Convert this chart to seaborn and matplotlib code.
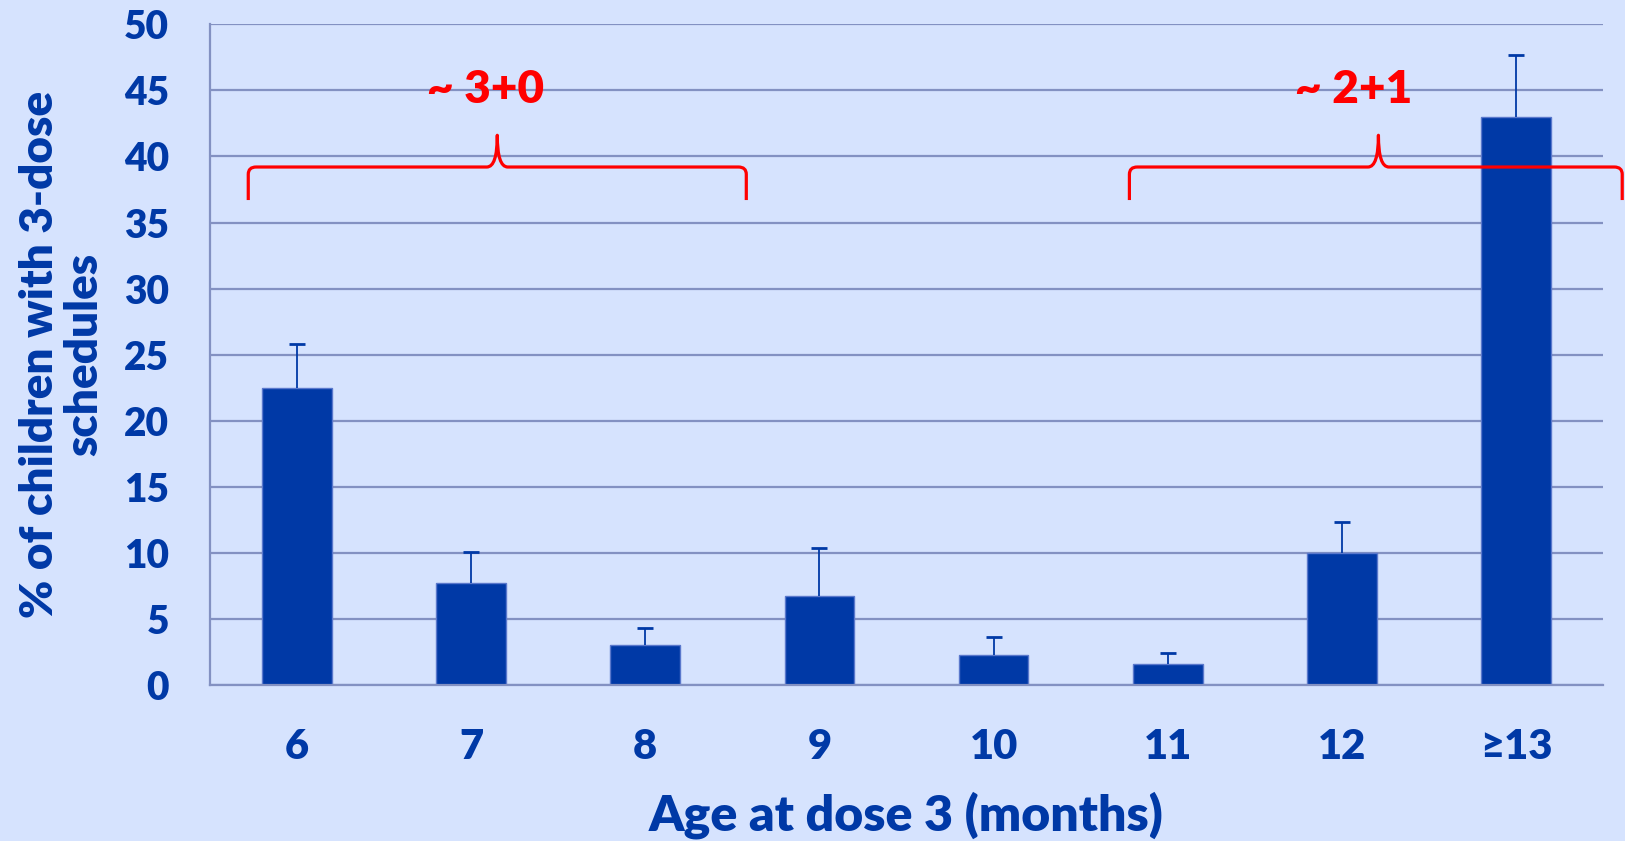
import numpy as np
import pandas as pd
import seaborn as sns
import matplotlib.pyplot as plt
from matplotlib.path import Path
from matplotlib.patches import PathPatch

#Figure Colors
bg_color = '#d6e3fe'
bar_color = '#0039a6'
text_color = '#0039a6'
grid_color = '#8391c2'
brace_color = '#ff0000'

sns.set_style('white')
plt.rcParams['font.family'] = ['Lato', 'DejaVu Sans']
plt.rcParams['font.weight'] = 'bold'

#data
ages = ['6', '7', '8', '9', '10', '11', '12', '≥13']
pct_children = [22.5, 7.7, 3.0, 6.7, 2.3, 1.6, 10.0, 43.0]
upper_limit = [25.8, 10.1, 4.3, 10.4, 3.6, 2.4, 12.3, 47.7]

#schedule brackets (left end, right end, middle) in category units
schedule_labels = ['~ 3+0', '~ 2+1']
brace_spans = [(-0.28, 2.58, 1.15), (4.78, 7.61, 6.21)]
label_x = [1.08, 6.07]

df = pd.DataFrame({'Age': ages, 'Percent': pct_children, 'Upper': upper_limit})


def draw_brace(ax, x0, x1, xc, y_line=39.2, y_peak=41.6, y_end=36.7, dx=0.045, dy=0.55, pw=0.06):
    '''
    Draws a horizontal curly bracket (opening downwards) in data coordinates.
    '''
    verts = [
        (x0, y_end), (x0, y_line - dy),
        (x0, y_line), (x0 + dx, y_line),
        (xc - pw, y_line),
        (xc, y_line), (xc, y_peak),
        (xc, y_line), (xc + pw, y_line),
        (x1 - dx, y_line),
        (x1, y_line), (x1, y_line - dy),
        (x1, y_end),
    ]
    codes = [Path.MOVETO, Path.LINETO,
             Path.CURVE3, Path.CURVE3,
             Path.LINETO,
             Path.CURVE3, Path.CURVE3,
             Path.CURVE3, Path.CURVE3,
             Path.LINETO,
             Path.CURVE3, Path.CURVE3,
             Path.LINETO]
    patch = PathPatch(Path(verts, codes), facecolor='none', edgecolor=brace_color,
                      lw=2.3, capstyle='butt', joinstyle='round', zorder=5, clip_on=False)
    ax.add_patch(patch)


fig = plt.figure(figsize=(16.25, 8.41), dpi=100)
fig.patch.set_facecolor(bg_color)
ax = fig.add_axes([0.1292, 0.1855, 0.8573, 0.7856])
ax.set_facecolor(bg_color)

sns.barplot(data=df, x='Age', y='Percent', color=bar_color, width=0.4,
            edgecolor='#5a78cc', linewidth=1, saturation=1, errorbar=None, ax=ax, zorder=2)

#upper error bars only
yerr = [np.zeros(len(df)), df['Upper'] - df['Percent']]
eb = ax.errorbar(np.arange(len(df)), df['Percent'], yerr=yerr, fmt='none', ecolor=bar_color,
                 elinewidth=1.3, capsize=5.5, capthick=2, zorder=3)
eb[1][0].set_visible(False)  #hide the cap sitting on the bar top

ax.set_xlim(-0.5, len(ages) - 0.5)
ax.set_ylim(0, 50)
ax.set_yticks(np.arange(0, 51, 5))
ax.set_axisbelow(True)
ax.yaxis.grid(True, color=grid_color, lw=1.6)
ax.xaxis.grid(False)

for side in ['top', 'right']:
    ax.spines[side].set_visible(False)
for side in ['left', 'bottom']:
    ax.spines[side].set_color(grid_color)
    ax.spines[side].set_linewidth(1.6)

ax.set_xticks(np.arange(-0.5, len(ages), 1), minor=True)
ax.tick_params(axis='x', which='major', length=0, pad=31, labelsize=30, labelcolor=text_color)
ax.tick_params(axis='x', which='minor', length=11.5, width=1.6, color=grid_color)
ax.tick_params(axis='y', length=9.4, width=1.6, color=grid_color, pad=20,
               labelsize=28, labelcolor=text_color)
for lab in ax.get_xticklabels() + ax.get_yticklabels():
    lab.set_fontweight('heavy')

ax.set_xlabel('Age at dose 3 (months)', fontsize=36, fontweight='heavy', color=text_color, labelpad=18)
ax.set_ylabel('% of children with 3-dose\nschedules', fontsize=33, fontweight='heavy',
              color=text_color, labelpad=14, linespacing=1.1)

for (x0, x1, xc), lab, lx in zip(brace_spans, schedule_labels, label_x):
    draw_brace(ax, x0, x1, xc)
    ax.text(lx, 44.05, lab, color=brace_color, fontsize=33, fontweight='heavy',
            ha='center', va='baseline', zorder=6)

fig.savefig('out.png', dpi=100, facecolor=bg_color)
